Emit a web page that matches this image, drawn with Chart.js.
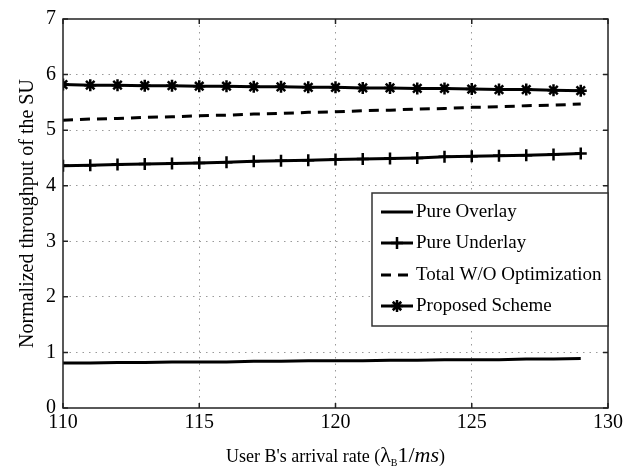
<!DOCTYPE html>
<html>
<head>
<meta charset="utf-8">
<script src="https://cdn.jsdelivr.net/npm/chart.js@4/dist/chart.umd.min.js"></script>
<style>
  html, body { margin: 0; padding: 0; background: #fff; }
  #wrap { width: 641px; height: 471px; }
</style>
</head>
<body>
<div id="wrap"><canvas id="thr"></canvas></div>
<script>
// arrival rate of user B (1/ms)
const arrivalRate = [110, 111, 112, 113, 114, 115, 116, 117, 118, 119,
                     120, 121, 122, 123, 124, 125, 126, 127, 128, 129];

// normalized throughput of the SU for each scheme
const pureOverlay = [0.81, 0.81, 0.82, 0.82, 0.83, 0.83, 0.83, 0.84, 0.84, 0.85,
                     0.85, 0.85, 0.86, 0.86, 0.87, 0.87, 0.87, 0.88, 0.88, 0.89];
const pureUnderlay = [4.36, 4.37, 4.38, 4.39, 4.40, 4.41, 4.42, 4.44, 4.45, 4.46,
                      4.47, 4.48, 4.49, 4.50, 4.52, 4.53, 4.54, 4.55, 4.56, 4.58];
const totalNoOpt = [5.18, 5.20, 5.21, 5.23, 5.24, 5.26, 5.27, 5.29, 5.30, 5.32,
                    5.33, 5.35, 5.36, 5.38, 5.39, 5.41, 5.42, 5.44, 5.45, 5.47];
const proposed = [5.82, 5.81, 5.81, 5.80, 5.80, 5.79, 5.79, 5.78, 5.78, 5.77,
                  5.77, 5.76, 5.76, 5.75, 5.75, 5.74, 5.73, 5.73, 5.72, 5.71];

const seriesNames = ['Pure Overlay', 'Pure Underlay', 'Total W/O Optimization', 'Proposed Scheme'];
const xTicks = [110, 115, 120, 125, 130];
const yTicks = [0, 1, 2, 3, 4, 5, 6, 7];

const serif = '"Liberation Serif", "DejaVu Serif", serif';

function pts(ys) {
    return arrivalRate.map((x, i) => ({ x: x, y: ys[i] }));
}

// frame, inward ticks, custom legend and the x title with the subscript
const framePlugin = {
    id: 'frame',
    afterDraw(chart) {
        const ctx = chart.ctx;
        const a = chart.chartArea;
        const xs = chart.scales.x, ys = chart.scales.y;
        ctx.save();
        ctx.strokeStyle = '#222';
        ctx.lineWidth = 1.5;
        ctx.strokeRect(a.left, a.top, a.right - a.left, a.bottom - a.top);

        // little ticks pointing into the plot
        ctx.beginPath();
        xTicks.forEach(v => {
            const px = xs.getPixelForValue(v);
            ctx.moveTo(px, a.bottom); ctx.lineTo(px, a.bottom - 5);
            ctx.moveTo(px, a.top); ctx.lineTo(px, a.top + 5);
        });
        yTicks.forEach(v => {
            const py = ys.getPixelForValue(v);
            ctx.moveTo(a.left, py); ctx.lineTo(a.left + 5, py);
            ctx.moveTo(a.right, py); ctx.lineTo(a.right - 5, py);
        });
        ctx.stroke();

        // legend box
        const lx = 372, ly = 193, lb = 326;
        ctx.fillStyle = '#fff';
        ctx.fillRect(lx, ly, a.right - lx, lb - ly);
        ctx.strokeStyle = '#333';
        ctx.lineWidth = 1.5;
        ctx.strokeRect(lx, ly, a.right - lx, lb - ly);

        const rows = [212, 243, 275, 306];
        chart.data.datasets.forEach((ds, i) => {
            const y = rows[i];
            ctx.save();
            ctx.strokeStyle = '#000';
            ctx.lineWidth = ds.borderWidth;
            ctx.setLineDash(ds.borderDash || []);
            ctx.beginPath();
            ctx.moveTo(381, y); ctx.lineTo(413, y);
            ctx.stroke();
            ctx.restore();
            if (ds.pointRadius > 0) {
                ctx.save();
                ctx.strokeStyle = '#000';
                ctx.fillStyle = '#000';
                ctx.lineWidth = ds.pointBorderWidth;
                Chart.helpers.drawPoint(ctx, {
                    pointStyle: ds.pointStyle, radius: ds.pointRadius,
                    borderWidth: ds.pointBorderWidth, rotation: 0
                }, 397, y);
                ctx.restore();
            }
            ctx.fillStyle = '#000';
            ctx.font = '19px ' + serif;
            ctx.textBaseline = 'middle';
            ctx.textAlign = 'left';
            ctx.fillText(ds.label, 416, y);
        });

        // x axis title: User B's arrival rate (λB 1/ms)
        const parts = [
            { t: "User B's arrival rate (", f: '18px ' + serif, dy: 0 },
            { t: 'λ', f: '22px ' + serif, dy: 0 },
            { t: 'B', f: '10px ' + serif, dy: 4 },
            { t: '1/', f: '22px ' + serif, dy: 0 },
            { t: 'ms', f: 'italic 22px ' + serif, dy: 0 },
            { t: ')', f: '18px ' + serif, dy: 0 }
        ];
        let total = 0;
        parts.forEach(p => { ctx.font = p.f; p.w = ctx.measureText(p.t).width; total += p.w; });
        let cx = (a.left + a.right) / 2 - total / 2;
        const base = 462;
        ctx.textBaseline = 'alphabetic';
        parts.forEach(p => {
            ctx.font = p.f;
            ctx.fillText(p.t, cx, base + p.dy);
            cx += p.w;
        });
        ctx.restore();
    }
};

const gridColor = ctx => {
    const v = ctx.tick && ctx.tick.value;
    if (ctx.scale.axis === 'x') return (v === 110 || v === 130) ? 'rgba(0,0,0,0)' : '#9a9a9a';
    return (v === 0 || v === 7) ? 'rgba(0,0,0,0)' : '#9a9a9a';
};

new Chart('thr', {
    type: 'line',
    data: {
        datasets: [
            {
                label: seriesNames[0],
                data: pts(pureOverlay),
                borderColor: '#000',
                borderWidth: 3,
                pointRadius: 0,
                pointBorderWidth: 0
            },
            {
                label: seriesNames[1],
                data: pts(pureUnderlay),
                borderColor: '#000',
                backgroundColor: '#000',
                borderWidth: 3,
                pointStyle: 'cross',
                pointRadius: 6,
                pointBorderWidth: 2.5
            },
            {
                label: seriesNames[2],
                data: pts(totalNoOpt),
                borderColor: '#000',
                borderWidth: 3,
                borderDash: [10, 7],
                pointRadius: 0,
                pointBorderWidth: 0
            },
            {
                label: seriesNames[3],
                data: pts(proposed),
                borderColor: '#000',
                backgroundColor: '#000',
                borderWidth: 3,
                pointStyle: 'star',
                pointRadius: 6,
                pointBorderWidth: 2.5
            }
        ]
    },
    options: {
        responsive: true,
        maintainAspectRatio: false,
        animation: false,
        layout: { padding: { top: 13, right: 33, left: 0, bottom: 0 } },
        plugins: {
            legend: { display: false },
            tooltip: { enabled: false }
        },
        scales: {
            x: {
                type: 'linear',
                min: 110,
                max: 130,
                afterBuildTicks: s => { s.ticks = xTicks.map(v => ({ value: v })); },
                afterFit: s => { s.height = 63; },
                ticks: {
                    color: '#000',
                    font: { family: serif, size: 20 },
                    padding: 3
                },
                border: { display: false, dash: [1.5, 5] },
                grid: { color: gridColor, lineWidth: 1, drawTicks: false }
            },
            y: {
                min: 0,
                max: 7,
                afterBuildTicks: s => { s.ticks = yTicks.map(v => ({ value: v })); },
                afterFit: s => { s.width = 63; },
                ticks: {
                    color: '#000',
                    font: { family: serif, size: 20 },
                    padding: 7
                },
                title: {
                    display: true,
                    text: 'Normalized throughput of the SU',
                    color: '#000',
                    font: { family: serif, size: 20 },
                    padding: { top: 16, bottom: 0 }
                },
                border: { display: false, dash: [1.5, 5] },
                grid: { color: gridColor, lineWidth: 1, drawTicks: false }
            }
        }
    },
    plugins: [framePlugin]
});
</script>
</body>
</html>
